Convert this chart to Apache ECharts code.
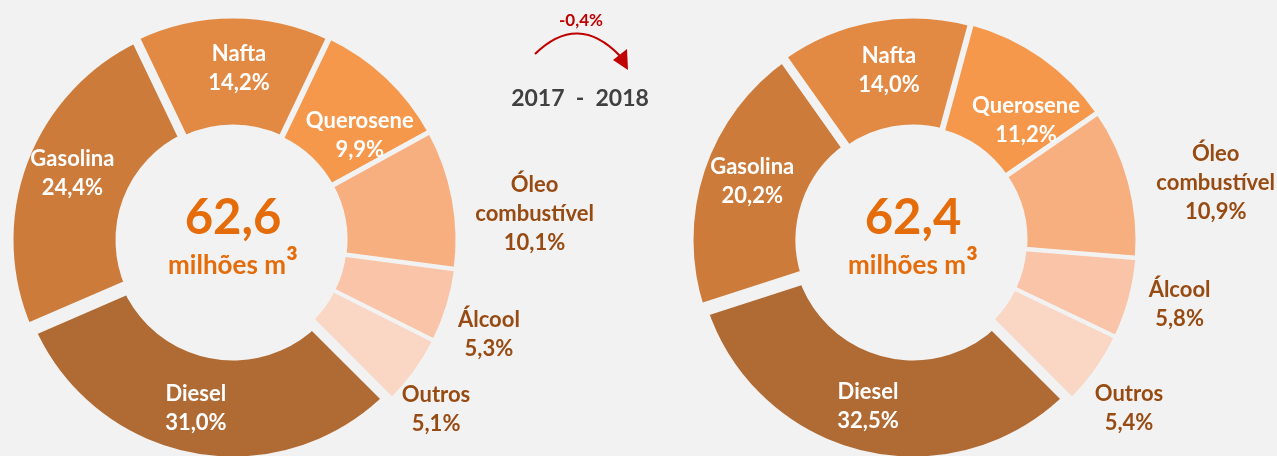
<!DOCTYPE html>
<html>
<head>
<meta charset="utf-8">
<script src="https://cdn.jsdelivr.net/npm/echarts@6/dist/echarts.min.js"></script>
<style>
  html, body { margin: 0; padding: 0; background: #F2F2F2; }
  #chart { width: 1277px; height: 456px; }
</style>
</head>
<body>
<div id="chart"></div>
<script>
// Fuel mix (share of total volume, %) for two consecutive years
const categories = ['Diesel', 'Gasolina', 'Nafta', 'Querosene', 'Óleo\ncombustível', 'Álcool', 'Outros'];
const shares2017 = [31.0, 24.4, 14.2, 9.9, 10.1, 5.3, 5.1];
const shares2018 = [32.5, 20.2, 14.0, 11.2, 10.9, 5.8, 5.4];
const totals = [62.6, 62.4];          // milhões m³
const years = ['2017', '2018'];
const change = -0.4;                   // % variation between the two totals

const sliceColors = ['#B06A33', '#CC7B3A', '#E28A43', '#F5984C', '#F8AF80', '#F9C4A8', '#FAD6C4'];
const gapWidths = [17, 11, 7, 5, 5, 4, 4];
const outsideLabel = [false, false, false, false, true, true, true];
const BG = '#F2F2F2';
const FONT = 'Lato, "Open Sans", sans-serif';

const fmt = v => v.toFixed(1).replace('.', ',');

// label nudges from the mid-ring anchor
const nudges = [
  [[-5, 0], [0, -6], [6, 0], [9, 20], [133, 6], [92, 44], [64, 69]],
  [[-5, 0], [2, -5], [6, -1], [14, 20], [137, -13], [101, 20], [76, 69]]
];

function buildData(values) {
  return categories.map((name, i) => ({
    name: name,
    value: values[i],
    itemStyle: { color: sliceColors[i], borderColor: BG, borderWidth: gapWidths[i], borderJoin: 'miter' },
    label: { color: outsideLabel[i] ? '#974B12' : '#FFFFFF' }
  }));
}

function donut(values, cx, idx) {
  return {
    type: 'pie',
    center: [cx, 240],
    radius: [112, 225],
    startAngle: -45,
    clockwise: true,
    avoidLabelOverlap: false,
    silent: true,
    animation: false,
    label: {
      show: true,
      position: 'inside',
      fontFamily: FONT,
      fontWeight: 'bold',
      fontSize: 22,
      lineHeight: 29,
      align: 'center',
      formatter: p => p.name + '\n' + fmt(p.value) + '%'
    },
    labelLine: { show: false },
    labelLayout: p => ({ dx: nudges[idx][p.dataIndex][0], dy: nudges[idx][p.dataIndex][1] }),
    data: buildData(values)
  };
}

const centers = [233, 913];

const chart = echarts.init(document.getElementById('chart'));
chart.setOption({
  backgroundColor: BG,
  series: [donut(shares2017, centers[0], 0), donut(shares2018, centers[1], 1)],
  graphic: [
    ...totals.flatMap((t, i) => [
      { type: 'text', x: centers[i], y: 218, style: { text: fmt(t), fill: '#E46C0A', font: 'bold 49px ' + FONT, align: 'center', verticalAlign: 'middle' } },
      { type: 'text', x: centers[i] - 6, y: 266, style: { text: 'milhões m', fill: '#E46C0A', font: 'bold 26px ' + FONT, align: 'center', verticalAlign: 'middle' } },
      { type: 'text', x: centers[i] + 59, y: 264, style: { text: '³', fill: '#E46C0A', font: 'bold 36px ' + FONT, align: 'center', verticalAlign: 'middle' } }
    ]),
    { type: 'text', x: 581, y: 21, style: { text: fmt(change) + '%', fill: '#C00000', font: 'bold 17px ' + FONT, align: 'center', verticalAlign: 'middle' } },
    { type: 'bezierCurve', shape: { x1: 535, y1: 54, cpx1: 578, cpy1: 12, x2: 620, y2: 56 }, style: { stroke: '#C00000', lineWidth: 2.2, fill: null } },
    { type: 'polygon', shape: { points: [[613, 60], [627, 49], [628, 70]] }, style: { fill: '#C00000' } },
    { type: 'text', x: 580, y: 99, style: { text: years[0] + '  -  ' + years[1], fill: '#404040', font: 'bold 23px ' + FONT, align: 'center', verticalAlign: 'middle' } }
  ]
});
</script>
</body>
</html>
